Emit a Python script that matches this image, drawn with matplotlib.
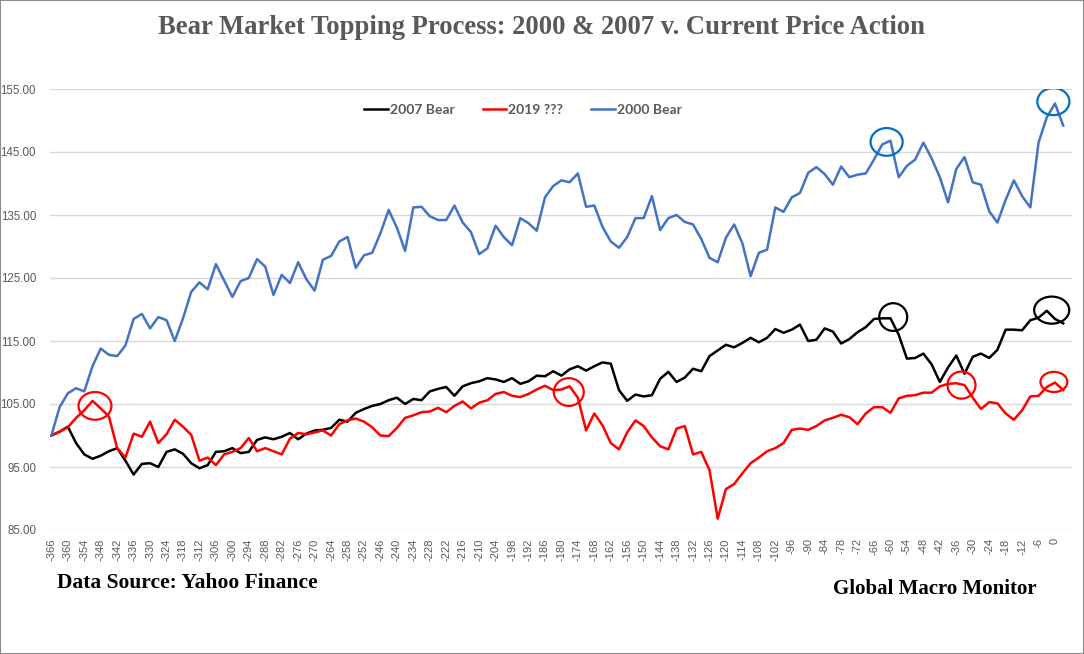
import matplotlib
matplotlib.use("Agg")
import matplotlib.pyplot as plt
from matplotlib.patches import Ellipse, Rectangle

# ---------------- data ----------------
days = list(range(-366, 4, 3))

bear_2000 = [
    100, 104.5, 106.7, 107.5, 107, 111, 113.8, 112.8, 112.6, 114.3,
    118.5, 119.3, 117, 118.8, 118.3, 115, 118.6, 122.8, 124.3, 123.2,
    127.2, 124.6, 122, 124.5, 125, 128, 126.8, 122.3, 125.5, 124.2,
    127.5, 124.8,
    123, 127.9, 128.5, 130.8, 131.5, 126.6, 128.6, 129, 132.1, 135.8,
    133, 129.3, 136.2, 136.3, 134.8, 134.2, 134.2, 136.5, 133.8, 132.3,
    128.8, 129.7, 133.3, 131.5, 130.2, 134.5, 133.7, 132.5, 137.8, 139.6,
    140.5,
    140.2, 141.6, 136.3, 136.5, 133.1, 130.8, 129.8, 131.5, 134.5, 134.5,
    138, 132.6, 134.5, 135, 133.9, 133.5, 131.2, 128.2, 127.5, 131.4,
    133.5, 130.5, 125.3, 129, 129.5, 136.2, 135.5, 137.8, 138.5, 141.7,
    142.6,
    141.5, 139.8, 142.7, 141, 141.4, 141.6, 143.8, 146.2, 146.8, 141,
    142.8, 143.8, 146.5, 144, 141, 137, 142.3, 144.2, 140.2, 139.8,
    135.6, 133.8, 137.4, 140.5, 138, 136.2, 146.5, 150.5, 152.7, 149.2,
]

bear_2007 = [
    100, 100.6, 101.4, 98.8, 97, 96.3, 96.8, 97.5, 98, 96,
    93.8, 95.5, 95.6, 95, 97.4, 97.8, 97.1, 95.6, 94.8, 95.3,
    97.4, 97.5, 98, 97.2, 97.4, 99.3, 99.7, 99.4, 99.8, 100.4,
    99.4, 100.3,
    100.8, 100.9, 101.2, 102.5, 102.2, 103.6, 104.2, 104.7, 105, 105.6,
    106, 105, 105.8, 105.6, 107, 107.4, 107.7, 106.3, 107.8, 108.3,
    108.6, 109.1, 108.9, 108.5, 109.1, 108.2, 108.6, 109.5, 109.4, 110.2,
    109.5,
    110.5, 111, 110.3, 111, 111.6, 111.4, 107.2, 105.5, 106.5, 106.2,
    106.4, 109, 110.1, 108.5, 109.2, 110.6, 110.2, 112.6, 113.5, 114.4,
    114, 114.7, 115.5, 114.8, 115.5, 116.9, 116.3, 116.8, 117.6, 115,
    115.2,
    117, 116.5, 114.6, 115.3, 116.4, 117.2, 118.5, 118.6, 118.6, 116,
    112.2, 112.3, 113, 111.3, 108.5, 110.8, 112.7, 109.8, 112.5, 113,
    112.3, 113.6, 116.8, 116.8, 116.7, 118.3, 118.7, 119.8, 118.5, 117.8,
]

cur_2019 = [
    100, 100.6, 101.3, 102.8, 104, 105.5, 104.3, 103, 98, 96.5,
    100.3, 99.8, 102.2, 98.8, 100.2, 102.5, 101.4, 100.1, 96, 96.5,
    95.3, 97, 97.4, 98, 99.6, 97.5, 98, 97.5, 97, 99.5,
    100.4, 100.2,
    100.5, 100.8, 100, 101.8, 102.4, 102.7, 102.2, 101.3, 100, 99.9,
    101.2, 102.8, 103.2, 103.7, 103.8, 104.4, 103.7, 104.7, 105.4, 104.3,
    105.2, 105.6, 106.6, 106.9, 106.3, 106.1, 106.6, 107.3, 107.9, 107.2,
    107.3,
    107.8, 106, 100.8, 103.5, 101.6, 98.8, 97.8, 100.5, 102.4, 101.5,
    99.7, 98.3, 97.8, 101.1, 101.5, 97, 97.4, 94.5, 86.8, 91.5,
    92.3, 94, 95.6, 96.5, 97.5, 98, 98.8, 100.9, 101.1, 100.9,
    101.5,
    102.4, 102.8, 103.3, 102.9, 101.8, 103.5, 104.5, 104.5, 103.6, 105.9,
    106.3, 106.4, 106.8, 106.8, 107.8, 108.2, 108.3, 108, 106, 104.2,
    105.3, 105.1, 103.5, 102.5, 104, 106.2, 106.3, 107.7, 108.4, 107.2,
]

tick_days = list(range(-366, 1, 6))
y_ticks = [85, 95, 105, 115, 125, 135, 145, 155]

# annotation circles: (center day, center value, width days, height value, color)
circles = [
    (-350.1, 104.7, 12.0, 4.4, "#FF0000"),
    (-177.3, 106.9, 10.9, 4.4, "#FF0000"),
    (-34.1, 108.0, 10.2, 4.3, "#FF0000"),
    (-0.4, 108.5, 9.8, 3.2, "#FF0000"),
    (-61.4, 146.6, 11.7, 4.4, "#0070C0"),
    (-0.6, 153.0, 11.7, 4.3, "#0070C0"),
    (-59.0, 118.8, 10.2, 4.4, "#000000"),
    (-1.2, 119.9, 12.8, 4.3, "#000000"),
]

# ---------------- figure ----------------
fig = plt.figure(figsize=(10.84, 6.54), dpi=100)
ax = fig.add_axes([50 / 1084, 1 - 530 / 654, 1022 / 1084, 441 / 654])

l1, = ax.plot(days, bear_2007, color="#000000", lw=1.8, label="2007 Bear", zorder=3)
l2, = ax.plot(days, cur_2019, color="#FF0000", lw=1.8, label="2019 ???", zorder=3)
l3, = ax.plot(days, bear_2000, color="#4472C4", lw=1.8, label="2000 Bear", zorder=3)

for cx, cy, w, h, c in circles:
    ax.add_patch(Ellipse((cx, cy), w, h, fill=False, ec=c, lw=1.6, zorder=4))

ax.set_xlim(-366.5, 6.2)
ax.set_ylim(85, 155)
ax.set_yticks(y_ticks)
ax.set_yticklabels([f"{v:.2f}" for v in y_ticks])
ax.set_xticks(tick_days)
ax.set_xticklabels([str(d) for d in tick_days], rotation=90)
ax.tick_params(axis="both", length=0, colors="#595959", labelsize=8)
ax.tick_params(axis="y", pad=10, labelsize=8.3)
ax.tick_params(axis="x", pad=6)
for lab in ax.get_xticklabels() + ax.get_yticklabels():
    lab.set_family("Liberation Sans")
ax.grid(axis="y", color="#D9D9D9", lw=1.0, zorder=0)
ax.set_axisbelow(True)
for s in ax.spines.values():
    s.set_visible(False)

leg = ax.legend(handles=[l1, l2, l3], ncol=3, loc="center",
                bbox_to_anchor=(523 / 1084, 1 - 110 / 654),
                bbox_transform=fig.transFigure, frameon=False,
                handlelength=1.7, handletextpad=0.15, columnspacing=2.0,
                prop={"family": "Lato", "weight": "bold", "size": 10})
for t in leg.get_texts():
    t.set_color("#595959")

fig.text(542 / 1084, 1 - 27 / 654,
         "Bear Market Topping Process: 2000 & 2007 v. Current Price Action",
         ha="center", va="center", fontsize=19.2, fontweight="bold",
         family="Liberation Serif", color="#595959")
fig.text(57 / 1084, 1 - 583 / 654, "Data Source: Yahoo Finance",
         ha="left", va="center", fontsize=15.5, fontweight="bold",
         family="Liberation Serif", color="#000000")
fig.text(1037 / 1084, 1 - 589 / 654, "Global Macro Monitor",
         ha="right", va="center", fontsize=15, fontweight="bold",
         family="Liberation Serif", color="#000000")

fig.add_artist(Rectangle((0, 0), 1, 1, transform=fig.transFigure,
                         fill=False, ec="#8C8C8C", lw=1.5))

fig.savefig("out.png", dpi=100)
